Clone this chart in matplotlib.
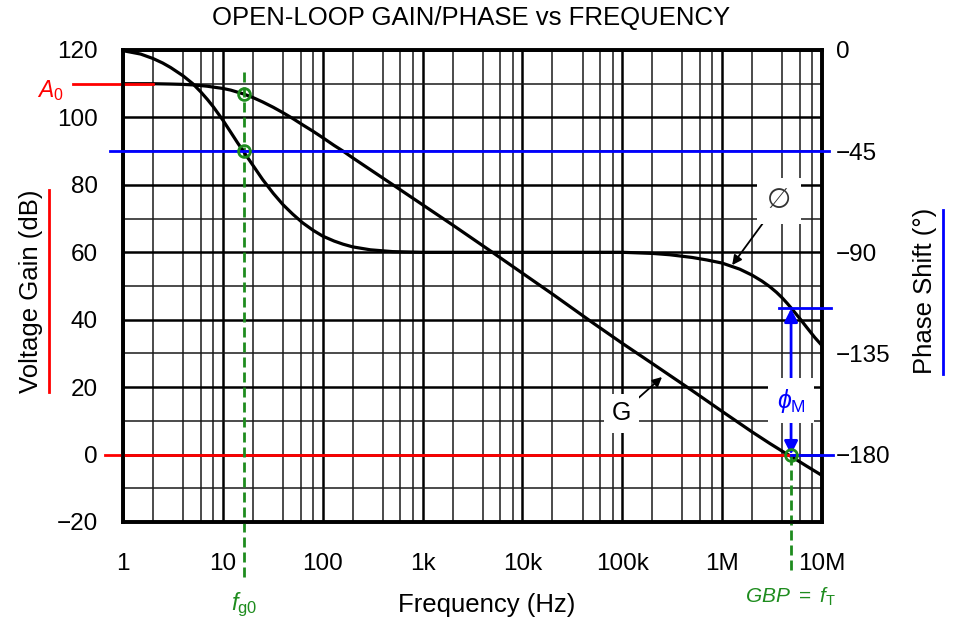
import matplotlib
matplotlib.use('Agg')
import matplotlib.pyplot as plt
from matplotlib.lines import Line2D
from matplotlib.ticker import FixedLocator, LogLocator, NullFormatter, MultipleLocator

# open-loop gain (Hz, dB)
freq_gain = [1, 2, 3, 4, 5, 6, 7, 8, 10, 12, 14, 16, 20, 25, 32, 40, 50, 63,
             80, 100, 130, 160, 200, 300, 500, 1e3, 2e3, 5e3, 1e4, 2e4, 5e4,
             1e5, 2e5, 5e5, 1e6, 2e6, 3e6, 4e6, 5e6, 7e6, 1e7]
gain_db = [110, 110, 109.9, 109.8, 109.65, 109.45, 109.25, 109, 108.6, 108.1,
           107.5, 107, 105.9, 104.6, 103, 101.4, 99.7, 97.8, 95.9, 94, 91.7,
           90, 88, 84.5, 80.1, 74.1, 68.1, 60, 53.8, 47.6, 39.2, 33, 27, 19,
           12.8, 6.7, 3.3, 1.0, -0.7, -3.4, -6.2]

# phase shift (Hz, degrees)
freq_phase = [1, 1.5, 2, 2.5, 3, 4, 5, 6, 7, 8, 10, 12, 14, 16, 20, 25, 32, 40,
              50, 63, 80, 100, 130, 160, 200, 300, 500, 1e3, 1e4, 1e5, 2e5,
              3e5, 5e5, 7e5, 1e6, 1.5e6, 2e6, 2.5e6, 3e6, 3.5e6, 4e6, 4.5e6,
              5e6, 6e6, 7e6, 8.5e6, 1e7]
phase_deg = [-0.3, -1.8, -3.8, -5.8, -7.8, -11.5, -15, -18.6, -22, -25.2,
             -31.2, -36.6, -41.2, -45, -51.3, -57.6, -63.8, -68.8, -73, -76.9,
             -80.2, -82.8, -85, -86.4, -87.6, -88.9, -89.7, -90, -90, -90,
             -90.5, -91.1, -92.3, -93.4, -94.8, -97.5, -100.2, -102.8, -105.3,
             -107.8, -110.3, -112.8, -115.2, -119.5, -123.3, -128, -131.5]

x_ticks = [1, 10, 100, 1e3, 1e4, 1e5, 1e6, 1e7]
x_labels = ['1', '10', '100', '1k', '10k', '100k', '1M', '10M']
gain_ticks = [-20, 0, 20, 40, 60, 80, 100, 120]
phase_ticks = [0, -45, -90, -135, -180]

a0 = 110
fg0 = 16.2
gbp = 4.9e6
phase_at_gbp = -115

RED = '#ff0000'
BLUE = '#0000ff'
GREEN = '#1e8c1e'

plt.rcParams['font.family'] = ['Liberation Sans', 'DejaVu Sans']
plt.rcParams['mathtext.fontset'] = 'custom'
plt.rcParams['mathtext.rm'] = 'Liberation Sans'
plt.rcParams['mathtext.it'] = 'Liberation Sans:italic'

W, H = 955, 622
fig = plt.figure(figsize=(W / 100, H / 100), dpi=100)
ax = fig.add_axes([123 / W, 1 - 522 / H, 699 / W, 472 / H])
ax.set_xscale('log')
ax.set_xlim(1, 1e7)
ax.set_ylim(-20, 120)
ax2 = ax.twinx()
ax2.set_ylim(-210, 0)

# grid
ax.set_xticks(x_ticks, x_labels)
ax.xaxis.set_minor_locator(LogLocator(base=10, subs=[2, 4, 6, 8], numticks=30))
ax.xaxis.set_minor_formatter(NullFormatter())
ax.yaxis.set_major_locator(FixedLocator(gain_ticks))
ax.yaxis.set_minor_locator(MultipleLocator(10))
ax.grid(which='major', color='k', lw=1.8)
ax.grid(which='minor', color='#1a1a1a', lw=1.1)
ax.set_axisbelow(True)
ax2.set_yticks(phase_ticks)

ax.tick_params(axis='x', which='both', length=0, labelsize=17.5, pad=22)
ax.tick_params(axis='y', which='both', length=0, labelsize=17.5, pad=18)
ax2.tick_params(axis='y', length=0, labelsize=17.5, pad=10)
for a in (ax, ax2):
    for s in a.spines.values():
        s.set_linewidth(2.6)

# curves
ax.plot(freq_gain, gain_db, color='k', lw=2.3, zorder=3)
ax2.plot(freq_phase, phase_deg, color='k', lw=2.3, zorder=3)

# reference lines
ax.plot([0.316, 2], [a0, a0], color=RED, lw=2, clip_on=False, zorder=4)
ax.plot([0.66, gbp], [0, 0], color=RED, lw=2, clip_on=False, zorder=4)
ax2.plot([0.74, 11.7e6], [-45, -45], color=BLUE, lw=2, clip_on=False, zorder=4)
ax2.plot([gbp, 12.9e6], [-180, -180], color=BLUE, lw=2, clip_on=False, zorder=4)
ax2.plot([3.7e6, 12.3e6], [phase_at_gbp, phase_at_gbp], color=BLUE, lw=2,
         clip_on=False, zorder=4)

# green markers
dash = (0, (3.6, 1.8))
ax.plot([fg0, fg0], [113.5, -37.2], color=GREEN, lw=2, ls=dash, clip_on=False, zorder=4)
ax.plot([gbp, gbp], [0, -35.7], color=GREEN, lw=2, ls=dash, clip_on=False, zorder=4)
ax.plot([fg0], [a0 - 3], 'o', ms=8.5, mfc='none', mec=GREEN, mew=2, zorder=6)
ax2.plot([fg0], [-45], 'o', ms=8.5, mfc='none', mec=GREEN, mew=2, zorder=6)
ax2.plot([gbp], [-180], 'o', ms=8.5, mfc='none', mec=GREEN, mew=2, zorder=6)

# phase margin arrow
ax2.annotate('', xy=(gbp, phase_at_gbp), xytext=(gbp, -180),
             arrowprops=dict(arrowstyle='<|-|>', color=BLUE, lw=2,
                             mutation_scale=20, shrinkA=0, shrinkB=0),
             zorder=5)
ax2.text(gbp, -156, r'$\phi_{\mathrm{M}}$', color=BLUE, fontsize=18,
         ha='center', va='center', zorder=7,
         bbox=dict(boxstyle='square,pad=0.35', fc='white', ec='none'))

# curve labels
ax2.annotate('\u2205', xy=(1.26e6, -95.7), xytext=(3.72e6, -67.2),
             fontsize=20, ha='center', va='center', color='#333333', zorder=7,
             bbox=dict(boxstyle='square,pad=0.35', fc='white', ec='none'),
             arrowprops=dict(arrowstyle='-|>', color='k', lw=1.3,
                             mutation_scale=14, shrinkA=0, shrinkB=0))
ax.annotate('G', xy=(2.5e5, 23), xytext=(9.8e4, 12.3),
            fontsize=18, ha='center', va='center', zorder=7,
            bbox=dict(boxstyle='square,pad=0.3', fc='white', ec='none'),
            arrowprops=dict(arrowstyle='-|>', color='k', lw=1.3,
                            mutation_scale=14, shrinkA=0, shrinkB=0))

# text annotations
ax.text(0.186, 108.1, r'$A_{\mathrm{0}}$', color=RED, fontsize=16.5,
        ha='center', va='center')
ax.text(fg0, -44.6, r'$f_{\mathrm{g0}}$', color=GREEN, fontsize=17,
        ha='center', va='center')
ax.text(gbp, -42.2, r'$GBP\ =\ f_{\mathrm{T}}$', color=GREEN, fontsize=15,
        ha='center', va='center')

fig.text(471 / W, 1 - 18 / H, 'OPEN-LOOP GAIN/PHASE vs FREQUENCY',
         fontsize=18.5, ha='center', va='center')
fig.text(487 / W, 1 - 605 / H, 'Frequency (Hz)', fontsize=18.5,
         ha='center', va='center')
fig.text(31 / W, 1 - 291 / H, 'Voltage Gain (dB)', fontsize=18.5,
         rotation=90, ha='center', va='center')
fig.text(925 / W, 1 - 291 / H, 'Phase Shift (\u00b0)', fontsize=18.5,
         rotation=90, ha='center', va='center')

fig.add_artist(Line2D([49 / W, 49 / W], [1 - 190 / H, 1 - 392 / H],
                      transform=fig.transFigure, color=RED, lw=2))
fig.add_artist(Line2D([943 / W, 943 / W], [1 - 210 / H, 1 - 374 / H],
                      transform=fig.transFigure, color=BLUE, lw=2))

fig.savefig('out.png', dpi=100)
